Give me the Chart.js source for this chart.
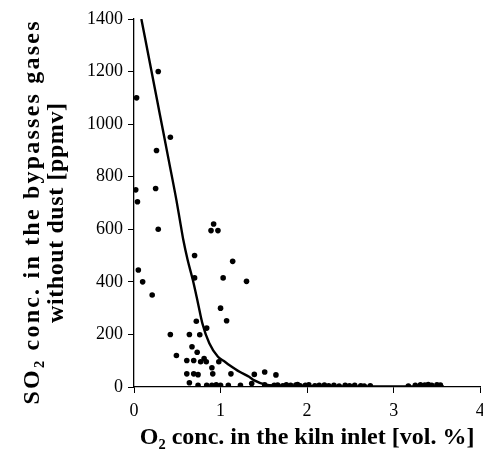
<!DOCTYPE html>
<html>
<head>
<meta charset="utf-8">
<script src="https://cdn.jsdelivr.net/npm/chart.js@4/dist/chart.umd.min.js"></script>
<style>
  html, body { margin: 0; padding: 0; background: #fff; }
  #wrap { width: 483px; height: 460px; position: relative; }
</style>
</head>
<body>
<div id="wrap"><canvas id="c" width="483" height="460"></canvas></div>
<script>
// Measured points: O2 conc. in kiln inlet [vol. %] vs SO2 conc. [ppmv]
const pointsX = [
  0.03, 0.28, 0.42, 0.26, 0.02, 0.25, 0.04, 0.28, 0.92, 0.89, 0.97, 0.70, 1.14,
  0.05, 0.70, 1.03, 1.30, 0.10, 0.21, 1.00, 1.07, 0.72, 0.84, 0.42, 0.64, 0.76,
  0.67, 0.49, 0.73, 0.61, 0.69, 0.77, 0.81, 0.835, 0.98, 0.90, 0.61, 0.69, 0.74,
  0.91, 1.12, 0.64, 0.74, 0.84, 0.90, 0.95, 1.00, 1.09, 1.23, 1.39, 1.51, 1.64,
  1.36, 1.51, 1.62, 1.66, 1.72, 1.76, 1.81, 1.87, 1.89, 1.92, 1.98, 2.02, 2.09,
  2.14, 2.20, 2.25, 2.31, 2.37, 2.44, 2.49, 2.55, 2.62, 2.66, 2.73,
  3.17, 3.25, 3.31, 3.36, 3.40, 3.44, 3.50, 3.54
];
const pointsY = [
  1100, 1200, 950, 900, 750, 755, 705, 600, 620, 595, 595, 500, 478,
  445, 415, 415, 402, 400, 350, 300, 252, 250, 224, 200, 200, 199,
  153, 120, 132, 101, 101, 96, 108, 96, 96, 73, 50, 50, 47,
  50, 50, 16, 6, 6, 6, 8, 6, 6, 6, 48, 57, 46,
  13, 8, 6, 7, 5, 8, 6, 7, 9, 5, 6, 8, 5,
  6, 7, 5, 6, 4, 6, 5, 6, 5, 4, 5,
  4, 6, 8, 7, 9, 6, 8, 7
];
// Fitted trend line
const fitX = [0.085, 0.20, 0.30, 0.40, 0.49, 0.53, 0.57, 0.62, 0.68, 0.74, 0.79, 0.87, 0.97, 1.05, 1.10, 1.22, 1.33, 1.39, 1.51, 1.70, 2.00, 2.50, 3.00, 3.58];
const fitY = [1400, 1205, 1035, 865, 711, 635, 559, 483, 407, 318, 242, 166, 115, 96, 84, 58, 39, 25, 10, 5, 3, 2, 2, 2];
// Axis ticks and titles
const xTicks = [0, 1, 2, 3, 4];
const yTicks = [0, 200, 400, 600, 800, 1000, 1200, 1400];
const xTitle = 'O₂ conc. in the kiln inlet [vol. %]';
const yTitleLines = ['SO₂ conc. in the bypasses gases', 'without dust [ppmv]'];

const serif = "'Liberation Serif', 'Times New Roman', serif";

const scatterData = pointsX.map((x, i) => ({ x: x, y: pointsY[i] }));
const fitData = fitX.map((x, i) => ({ x: x, y: fitY[i] }));

function zeroPad(scale) {
  scale.paddingLeft = 0; scale.paddingRight = 0;
  scale.paddingTop = 0; scale.paddingBottom = 0;
}

// Draws the two-line rotated y-axis title, each line stretched to the reference length
const yTitlePlugin = {
  id: 'yTitle',
  afterDraw(chart) {
    const ctx = chart.ctx;
    const cy = 213;
    const specs = [
      { text: yTitleLines[0], x: 33, target: 383 },
      { text: yTitleLines[1], x: 57, target: 220 }
    ];
    ctx.save();
    ctx.fillStyle = '#000';
    ctx.font = 'bold 24px ' + serif;
    ctx.textBaseline = 'middle';
    ctx.textAlign = 'center';
    specs.forEach(s => {
      ctx.letterSpacing = '0px';
      const w = ctx.measureText(s.text).width;
      const n = [...s.text].length;
      let ls = (s.target - w) / (n - 1);
      if (ls < -1) ls = -1;
      if (ls > 4) ls = 4;
      ctx.letterSpacing = ls + 'px';
      ctx.save();
      ctx.translate(s.x, cy);
      ctx.rotate(-Math.PI / 2);
      ctx.fillText(s.text, ls / 2, 0);
      ctx.restore();
    });
    ctx.restore();
  }
};

new Chart(document.getElementById('c'), {
  type: 'scatter',
  data: {
    datasets: [
      {
        label: 'fit',
        data: fitData,
        showLine: true,
        borderColor: '#000',
        borderWidth: 2.4,
        pointRadius: 0,
        cubicInterpolationMode: 'monotone',
        fill: false,
        order: 1
      },
      {
        label: 'measured',
        data: scatterData,
        showLine: false,
        backgroundColor: '#000',
        borderColor: '#000',
        borderWidth: 0,
        pointRadius: 2.8,
        pointHoverRadius: 2.8,
        order: 0
      }
    ]
  },
  plugins: [yTitlePlugin],
  options: {
    responsive: false,
    animation: false,
    devicePixelRatio: 1,
    layout: { padding: { top: 19, right: 1, left: 0, bottom: 0 } },
    plugins: { legend: { display: false }, tooltip: { enabled: false } },
    scales: {
      x: {
        type: 'linear',
        min: 0, max: 4,
        afterBuildTicks: (s) => { s.ticks = xTicks.map(v => ({ value: v })); },
        afterFit: (s) => { zeroPad(s); s.height = 73; },
        ticks: {
          color: '#000',
          font: { family: serif, size: 18 },
          padding: 7,
          maxRotation: 0,
          callback: (v) => String(v)
        },
        grid: { display: true, drawOnChartArea: false, drawTicks: true, tickLength: 6, color: '#000', tickColor: '#000', tickWidth: 1 },
        border: { display: true, color: '#000', width: 1.3 },
        title: {
          display: true,
          text: xTitle,
          color: '#000',
          font: { family: serif, size: 24, weight: 'bold', lineHeight: 1.1 },
          padding: { top: 0, bottom: 9 }
        }
      },
      y: {
        type: 'linear',
        min: 0, max: 1400,
        afterBuildTicks: (s) => { s.ticks = yTicks.map(v => ({ value: v })); },
        afterFit: (s) => { zeroPad(s); s.width = 134; },
        ticks: {
          color: '#000',
          font: { family: serif, size: 18 },
          padding: 5,
          callback: (v) => String(v)
        },
        grid: { display: true, drawOnChartArea: false, drawTicks: true, tickLength: 6, color: '#000', tickColor: '#000', tickWidth: 1 },
        border: { display: true, color: '#000', width: 1.3 },
        title: { display: false }
      }
    }
  }
});
</script>
</body>
</html>
